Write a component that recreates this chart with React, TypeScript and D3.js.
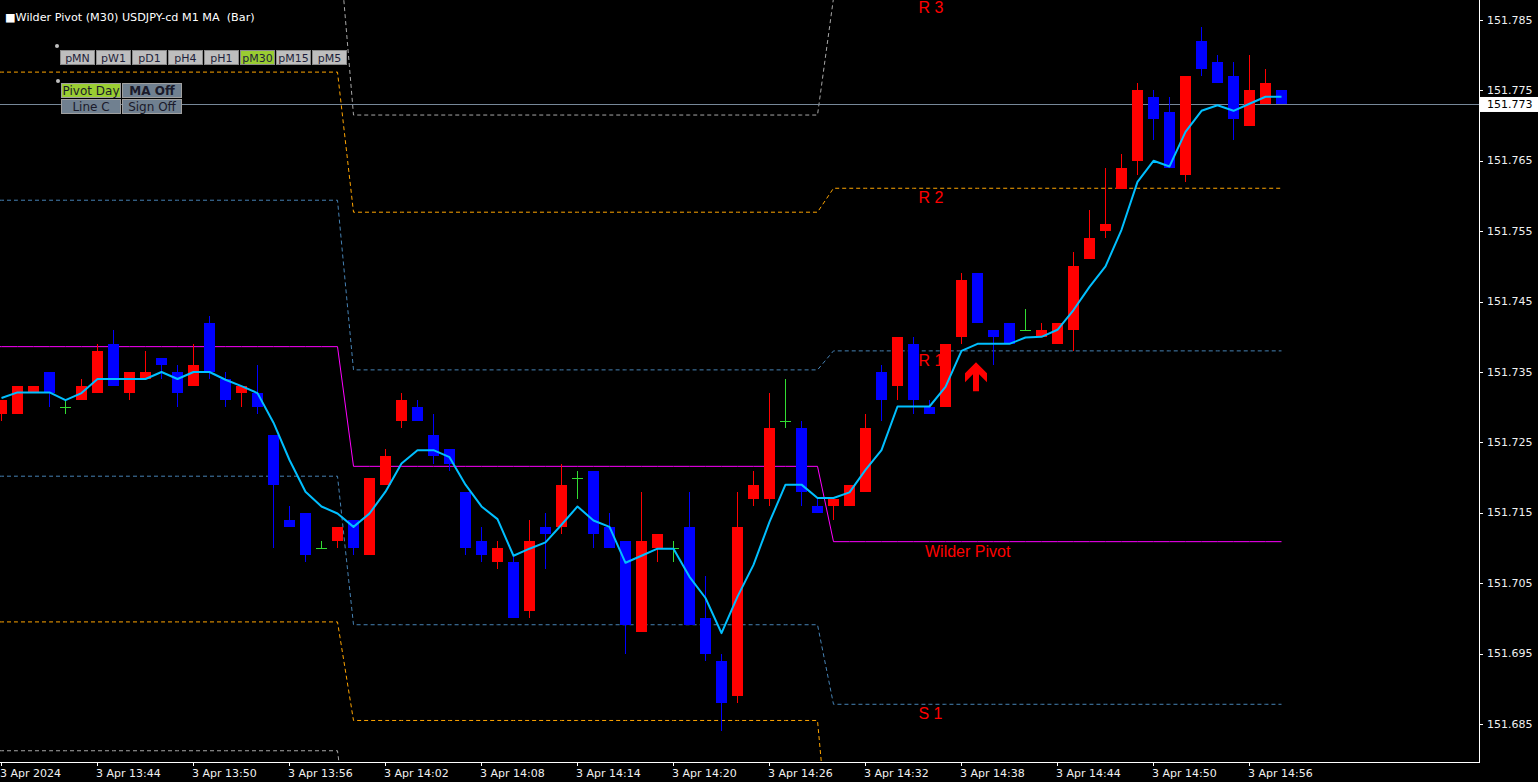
import React from 'react';
import * as d3 from 'd3';

const W = 1538;
const H = 782;
const PLOT_RIGHT = 1479;
const PLOT_BOTTOM = 762;

// ---------- DATA ----------
const opens = [
  151.729, 151.729, 151.732, 151.735, 151.730, 151.731, 151.732, 151.739, 151.732, 151.734,
  151.737, 151.735, 151.733, 151.742, 151.734, 151.732, 151.732, 151.726, 151.714, 151.715,
  151.710, 151.711, 151.714, 151.709, 151.719, 151.728, 151.730, 151.726, 151.724, 151.718,
  151.711, 151.708, 151.708, 151.701, 151.713, 151.713, 151.720, 151.721, 151.713, 151.711,
  151.698, 151.710, 151.710, 151.713, 151.700, 151.694, 151.689, 151.717, 151.717, 151.728,
  151.727, 151.716, 151.716, 151.716, 151.718, 151.735, 151.733, 151.739, 151.730, 151.730,
  151.740, 151.749, 151.741, 151.742, 151.741, 151.740, 151.739, 151.741, 151.751, 151.755,
  151.761, 151.765, 151.774, 151.772, 151.763, 151.782, 151.779, 151.777, 151.770, 151.773,
  151.775,
];
const highs = [
  151.731, 151.733, 151.733, 151.735, 151.731, 151.734, 151.739, 151.741, 151.735, 151.738,
  151.737, 151.736, 151.739, 151.743, 151.735, 151.733, 151.736, 151.726, 151.716, 151.715,
  151.711, 151.713, 151.714, 151.720, 151.724, 151.732, 151.731, 151.729, 151.724, 151.718,
  151.713, 151.711, 151.709, 151.714, 151.715, 151.722, 151.721, 151.721, 151.715, 151.711,
  151.718, 151.712, 151.711, 151.718, 151.706, 151.695, 151.718, 151.721, 151.732, 151.734,
  151.728, 151.717, 151.717, 151.719, 151.729, 151.736, 151.740, 151.740, 151.731, 151.739,
  151.749, 151.749, 151.741, 151.742, 151.744, 151.742, 151.742, 151.752, 151.758, 151.764,
  151.766, 151.776, 151.775, 151.774, 151.777, 151.784, 151.780, 151.779, 151.780, 151.778,
  151.775,
];
const lows = [
  151.728, 151.729, 151.732, 151.730, 151.729, 151.731, 151.732, 151.733, 151.731, 151.734,
  151.734, 151.730, 151.733, 151.734, 151.730, 151.730, 151.729, 151.710, 151.713, 151.708,
  151.710, 151.710, 151.709, 151.709, 151.719, 151.727, 151.728, 151.722, 151.721, 151.709,
  151.708, 151.707, 151.700, 151.700, 151.707, 151.712, 151.717, 151.710, 151.710, 151.695,
  151.698, 151.708, 151.708, 151.699, 151.694, 151.684, 151.688, 151.716, 151.716, 151.727,
  151.716, 151.715, 151.714, 151.716, 151.718, 151.728, 151.731, 151.729, 151.729, 151.730,
  151.739, 151.742, 151.736, 151.739, 151.741, 151.740, 151.739, 151.738, 151.751, 151.754,
  151.761, 151.763, 151.768, 151.764, 151.762, 151.777, 151.776, 151.768, 151.770, 151.773,
  151.773,
];
const closes = [
  151.731, 151.733, 151.733, 151.732, 151.730, 151.733, 151.738, 151.733, 151.735, 151.735,
  151.736, 151.732, 151.736, 151.735, 151.731, 151.733, 151.730, 151.719, 151.713, 151.709,
  151.710, 151.713, 151.710, 151.720, 151.723, 151.731, 151.728, 151.723, 151.722, 151.710,
  151.709, 151.710, 151.700, 151.711, 151.712, 151.719, 151.720, 151.712, 151.710, 151.699,
  151.711, 151.712, 151.710, 151.699, 151.695, 151.688, 151.713, 151.719, 151.727, 151.728,
  151.718, 151.715, 151.717, 151.719, 151.727, 151.731, 151.740, 151.731, 151.729, 151.739,
  151.748, 151.742, 151.740, 151.739, 151.741, 151.741, 151.742, 151.750, 151.754, 151.756,
  151.764, 151.775, 151.771, 151.764, 151.777, 151.778, 151.776, 151.771, 151.775, 151.776,
  151.773,
];
const maValues = [
  151.7313, 151.7321, 151.7321, 151.7321, 151.7310, 151.7320, 151.7340, 151.7340, 151.7340, 151.7340,
  151.7350, 151.7340, 151.7350, 151.7350, 151.7339, 151.7330, 151.7320, 151.7278, 151.7225, 151.7180,
  151.7159, 151.7149, 151.7130, 151.7149, 151.7180, 151.7220, 151.7239, 151.7239, 151.7229, 151.7190,
  151.7159, 151.7141, 151.7089, 151.7099, 151.7108, 151.7133, 151.7159, 151.7139, 151.7130, 151.7079,
  151.7089, 151.7099, 151.7099, 151.7059, 151.7029, 151.6979, 151.7031, 151.7076, 151.7137, 151.7190,
  151.7190, 151.7171, 151.7171, 151.7179, 151.7211, 151.7239, 151.7301, 151.7301, 151.7301, 151.7329,
  151.7380, 151.7390, 151.7390, 151.7390, 151.7399, 151.7400, 151.7410, 151.7438, 151.7471, 151.7500,
  151.7552, 151.7620, 151.7650, 151.7642, 151.7691, 151.7721, 151.7729, 151.7721, 151.7731, 151.7741,
  151.7741,
];

// Pivot periods (M30): first bar index of each period
const periodStarts = [0, 22, 52];
const levelR3 = [151.7985, 151.7715, 151.7881];
const levelR2 = [151.7776, 151.7577, 151.7611];
const levelR1 = [151.7594, 151.7353, 151.7380];
const levelP = [151.7386, 151.7216, 151.7109];
const levelS1 = [151.7202, 151.6991, 151.6878];
const levelS2 = [151.6995, 151.6855, 151.6607];
const levelS3 = [151.6812, 151.6631, 151.6380];

const timeTickBars = [0, 6, 12, 18, 24, 30, 36, 42, 48, 54, 60, 66, 72, 78];
const timeTickLabels = [
  '3 Apr 2024', '3 Apr 13:44', '3 Apr 13:50', '3 Apr 13:56', '3 Apr 14:02', '3 Apr 14:08',
  '3 Apr 14:14', '3 Apr 14:20', '3 Apr 14:26', '3 Apr 14:32', '3 Apr 14:38', '3 Apr 14:44',
  '3 Apr 14:50', '3 Apr 14:56',
];
const priceTicks = [151.685, 151.695, 151.705, 151.715, 151.725, 151.735, 151.745, 151.755, 151.765, 151.775, 151.785];
const lastPrice = 151.773;
const arrowBar = 61;
const arrowPrice = 151.7364;
const labelBar = 57;

const tfButtons = ['pMN', 'pW1', 'pD1', 'pH4', 'pH1', 'pM30', 'pM15', 'pM5'];
const activeTf = 'pM30';

// ---------- STYLE ----------
const BULL = '#ff0000';
const BEAR = '#0000ff';
const DOJI = '#32dc32';
const MA_COLOR = '#00bfff';
const AXIS_FONT = "'DejaVu Sans', Verdana, sans-serif";

export default function App() {
  const n = closes.length;
  const x = d3.scaleLinear().domain([0, 80]).range([1.5, 1281.5]);
  const y = d3.scaleLinear().domain([151.685, 151.785]).range([724, 20]);

  const periodOf = (i: number) => {
    let p = 0;
    periodStarts.forEach((s, k) => {
      if (i >= s) p = k;
    });
    return p;
  };

  const levelDefs = [
    { arr: levelR3, color: '#a8a8a8', dash: '4 3' },
    { arr: levelR2, color: '#ffa500', dash: '4 3' },
    { arr: levelR1, color: '#4682b4', dash: '4 3' },
    { arr: levelP, color: '#ff00ff', dash: null },
    { arr: levelS1, color: '#4682b4', dash: '4 3' },
    { arr: levelS2, color: '#ffa500', dash: '4 3' },
    { arr: levelS3, color: '#a8a8a8', dash: '4 3' },
  ];

  const idx = d3.range(n);
  const levelLine = d3
    .line<[number, number]>()
    .x((d) => d[0])
    .y((d) => d[1]);

  const levelPath = (arr: number[]) => {
    const pts: [number, number][] = [[x.invert(0), arr[0]]];
    idx.forEach((i) => pts.push([i, arr[periodOf(i)]]));
    return levelLine(pts.map((p) => [x(p[0]), y(p[1])] as [number, number]));
  };

  const maLine = d3
    .line<number>()
    .x((_, i) => x(i))
    .y((d) => y(d));

  const lastPeriod = periodStarts.length - 1;
  const textLabels = [
    { text: 'R 3', level: levelR3[lastPeriod], dx: 5 },
    { text: 'R 2', level: levelR2[lastPeriod], dx: 5 },
    { text: 'R 1', level: levelR1[lastPeriod], dx: 5 },
    { text: 'Wilder Pivot', level: levelP[lastPeriod], dx: 11.5 },
    { text: 'S 1', level: levelS1[lastPeriod], dx: 5 },
  ];

  const ax = x(arrowBar) - 1.5;
  const ay = y(arrowPrice);
  const arrowPath = `M${ax},${ay} L${ax + 11},${ay + 11} L${ax + 11},${ay + 20} L${ax + 3},${ay + 12} L${ax + 3},${ay + 29} L${ax - 3},${ay + 29} L${ax - 3},${ay + 12} L${ax - 11},${ay + 20} L${ax - 11},${ay + 11} Z`;

  return (
    <svg
      width={W}
      height={H}
      style={{ position: 'absolute', left: 0, top: 0, display: 'block', background: '#000' }}
    >
      <rect x={0} y={0} width={W} height={H} fill="#000" />
      <defs>
        <clipPath id="plotClip">
          <rect x={0} y={0} width={PLOT_RIGHT} height={PLOT_BOTTOM} />
        </clipPath>
      </defs>

      <g clipPath="url(#plotClip)">
        {/* pivot levels */}
        {levelDefs.map((l, k) => (
          <path
            key={'lv' + k}
            d={levelPath(l.arr) || ''}
            fill="none"
            stroke={l.color}
            strokeWidth={1}
            strokeDasharray={l.dash || undefined}
          />
        ))}

        {/* price line */}
        <line
          x1={0}
          x2={PLOT_RIGHT}
          y1={Math.round(y(lastPrice)) + 0.5}
          y2={Math.round(y(lastPrice)) + 0.5}
          stroke="#778899"
          strokeWidth={1}
        />

        {/* candles */}
        {idx.map((i) => {
          const o = opens[i];
          const c = closes[i];
          const cx = x(i);
          const color = o === c ? DOJI : c > o ? BULL : BEAR;
          const top = Math.round(y(Math.max(o, c)));
          const bot = Math.round(y(Math.min(o, c)));
          return (
            <g key={'c' + i} shapeRendering="crispEdges">
              <line x1={cx} x2={cx} y1={Math.round(y(highs[i]))} y2={Math.round(y(lows[i]))} stroke={color} strokeWidth={1} />
              {o === c ? (
                <line x1={cx - 5.5} x2={cx + 5.5} y1={top + 0.5} y2={top + 0.5} stroke={color} strokeWidth={1} />
              ) : (
                <rect x={cx - 5.5} y={top} width={11} height={Math.max(1, bot - top)} fill={color} />
              )}
            </g>
          );
        })}

        {/* moving average */}
        <path d={maLine(maValues) || ''} fill="none" stroke={MA_COLOR} strokeWidth={2} strokeLinejoin="round" />

        {/* level labels */}
        {textLabels.map((t) => (
          <text
            key={t.text}
            x={x(labelBar) + t.dx}
            y={y(t.level) + 15}
            fill="#ff0000"
            fontFamily="'Liberation Sans', Arial, sans-serif"
            fontSize={16}
          >
            {t.text}
          </text>
        ))}

        {/* signal arrow */}
        <path d={arrowPath} fill="#ff0000" />
      </g>

      {/* axes */}
      <line x1={PLOT_RIGHT + 0.5} x2={PLOT_RIGHT + 0.5} y1={0} y2={PLOT_BOTTOM + 1} stroke="#fff" strokeWidth={1} />
      <line x1={0} x2={PLOT_RIGHT + 1} y1={PLOT_BOTTOM + 0.5} y2={PLOT_BOTTOM + 0.5} stroke="#fff" strokeWidth={1} />

      {priceTicks.map((p) => (
        <g key={'pt' + p}>
          <line x1={PLOT_RIGHT + 1} x2={PLOT_RIGHT + 4} y1={Math.round(y(p)) + 0.5} y2={Math.round(y(p)) + 0.5} stroke="#fff" />
          <text x={1487} y={y(p)} dominantBaseline="central" fill="#f0f0f0" fontFamily={AXIS_FONT} fontSize={11}>
            {p.toFixed(3)}
          </text>
        </g>
      ))}

      {/* last price box */}
      <rect x={PLOT_RIGHT + 1} y={y(lastPrice) - 7.5} width={W - PLOT_RIGHT - 1} height={15} fill="#fff" />
      <text x={1487} y={y(lastPrice)} dominantBaseline="central" fill="#000" fontFamily={AXIS_FONT} fontSize={11}>
        {lastPrice.toFixed(3)}
      </text>

      {timeTickBars.map((b, k) => (
        <g key={'tt' + b}>
          <line x1={Math.floor(x(b)) + 0.5} x2={Math.floor(x(b)) + 0.5} y1={PLOT_BOTTOM} y2={PLOT_BOTTOM + 4} stroke="#fff" />
          <text x={x(b) - 1.5} y={777} fill="#f0f0f0" fontFamily={AXIS_FONT} fontSize={11}>
            {timeTickLabels[k]}
          </text>
        </g>
      ))}

      {/* header text */}
      <text x={5} y={21} fill="#fff" fontFamily={AXIS_FONT} fontSize={11.2} style={{ whiteSpace: 'pre' }}>
        {'■Wilder Pivot (M30) USDJPY-cd M1 MA  (Bar)'}
      </text>

      {/* panel buttons */}
      <circle cx={57} cy={46} r={2} fill="#c0c0c0" />
      {tfButtons.map((b, k) => (
        <g key={b}>
          <rect
            x={60.5 + k * 36}
            y={50.5}
            width={34}
            height={14}
            fill={b === activeTf ? '#9acd32' : '#bebebe'}
            stroke="#8a8a8a"
          />
          <text
            x={60.5 + k * 36 + 17}
            y={58}
            textAnchor="middle"
            dominantBaseline="central"
            fill="#1e1e3a"
            fontFamily={AXIS_FONT}
            fontSize={11}
          >
            {b}
          </text>
        </g>
      ))}
      <circle cx={58} cy={81} r={2} fill="#c0c0c0" />
      {[
        { t: 'Pivot Day', col: 0, row: 0, fill: '#9acd32', bold: false },
        { t: 'MA Off', col: 1, row: 0, fill: '#708090', bold: true },
        { t: 'Line C', col: 0, row: 1, fill: '#708090', bold: false },
        { t: 'Sign Off', col: 1, row: 1, fill: '#708090', bold: false },
      ].map((b) => (
        <g key={b.t}>
          <rect x={61.5 + b.col * 61} y={83.5 + b.row * 16} width={59} height={14} fill={b.fill} stroke="#a0a0a0" />
          <text
            x={61.5 + b.col * 61 + 29.5}
            y={91 + b.row * 16}
            textAnchor="middle"
            dominantBaseline="central"
            fill="#1a1a2a"
            fontFamily={AXIS_FONT}
            fontSize={12}
            fontWeight={b.bold ? 'bold' : 'normal'}
          >
            {b.t}
          </text>
        </g>
      ))}
    </svg>
  );
}
